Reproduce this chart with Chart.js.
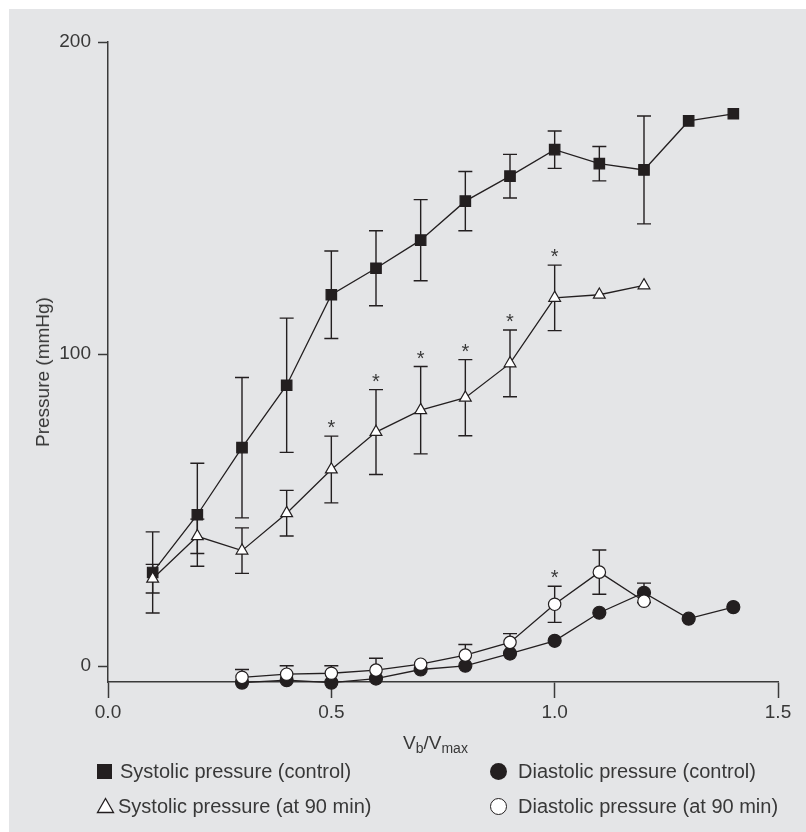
<!DOCTYPE html>
<html>
<head>
<meta charset="utf-8">
<script src="https://cdn.jsdelivr.net/npm/chart.js@4.4.1/dist/chart.umd.min.js"></script>
<style>
  html, body { margin: 0; padding: 0; background: #fff; }
  #wrap { position: relative; width: 806px; height: 832px; }
  #chart { position: absolute; left: 0; top: 0; }
  .txt { position: absolute; font-family: "Liberation Sans", Arial, sans-serif; font-size: 20px; color: #383838; white-space: nowrap; line-height: 20px; }
  .txt sub { font-size: 14px; vertical-align: -4px; line-height: 0; }
  .ytitle { left: 43px; top: 372px; font-size: 19px; transform: translate(-50%, -50%) rotate(-90deg); }
  .mk { position: absolute; }
</style>
</head>
<body>
<div id="wrap">
  <canvas id="chart" width="806" height="832"></canvas>
  <div class="txt ytitle">Pressure (mmHg)</div>
  <div class="txt" style="left:403px; top:733px; font-size:19px;">V<sub>b</sub>/V<sub>max</sub></div>

  <div class="mk" style="left:97px; top:764px; width:15px; height:15px; background:#231f20;"></div>
  <div class="txt" style="left:120px; top:761px;">Systolic pressure (control)</div>
  <svg class="mk" style="left:96px; top:797px;" width="20" height="17"><polygon points="1.5,15.5 9.5,1.5 17.5,15.5" fill="#fff" stroke="#231f20" stroke-width="1.3"/></svg>
  <div class="txt" style="left:118px; top:796px;">Systolic pressure (at 90 min)</div>

  <div class="mk" style="left:490px; top:763px; width:17px; height:17px; border-radius:50%; background:#231f20;"></div>
  <div class="txt" style="left:518px; top:761px;">Diastolic pressure (control)</div>
  <div class="mk" style="left:490px; top:798px; width:15px; height:15px; border-radius:50%; background:#fff; border:1.3px solid #231f20;"></div>
  <div class="txt" style="left:518px; top:796px;">Diastolic pressure (at 90 min)</div>
</div>
<script>
// values, one slot per x position
const xVals = [0.1, 0.2, 0.3, 0.4, 0.5, 0.6, 0.7, 0.8, 0.9, 1.0, 1.1, 1.2, 1.3, 1.4];

const sysCtrl    = [30, 48.5, 70, 90, 119, 127.5, 136.5, 149, 157, 165.5, 161, 159, 174.7, 177];
const sysCtrlErr = [13, 16.5, 22.5, 21.5, 14, 12, 13, 9.5, 7, 6, 5.5, 17.3, null, null];

const sysLate    = [28, 41.6, 37, 49, 63, 75, 82, 86, 97, 118, 119, 122, null, null];
const sysLateErr = [4.6, 5.5, 7.3, 7.3, 10.7, 13.6, 14, 12.2, 10.7, 10.5, null, null, null, null];
const sysLateStar = [0, 0, 0, 0, 1, 1, 1, 1, 1, 1, 0, 0, 0, 0];

const diaCtrl    = [null, null, -5.3, -4.5, -5.3, -4.0, -1.1, 0.1, 4.0, 8.1, 17.1, 23.5, 15.2, 18.9];
const diaCtrlErr = [null, null, null, null, null, null, null, null, null, null, null, 3.1, null, null];

const diaLate      = [null, null, -3.6, -2.6, -2.3, -1.3, 0.6, 3.5, 7.6, 19.8, 30.1, 20.8, null, null];
const diaLateErrUp = [null, null, 2.5, 2.7, 2.4, 3.8, null, 3.4, 2.8, 5.8, 7.1, null, null, null];
const diaLateErrDn = [null, null, null, null, null, null, null, null, null, 5.8, 7.1, null, null, null];
const diaLateStar  = [0, 0, 0, 0, 0, 0, 0, 0, 0, 1, 0, 0, 0, 0];

const xTicks = [0, 0.5, 1.0, 1.5];
const yTicks = [0, 100, 200];

const INK = "#231f20";
const AXIS = "#3a3a3a";
const TEXT = "#383838";

function pts(vals) {
  return xVals.map((x, i) => ({ x: x, y: vals[i] }));
}

// gray panel behind everything
const panel = {
  id: "panel",
  beforeDraw(chart) {
    const ctx = chart.ctx;
    ctx.save();
    ctx.fillStyle = "#fff";
    ctx.fillRect(0, 0, chart.width, chart.height);
    ctx.fillStyle = "#e4e5e7";
    ctx.fillRect(9, 9, chart.width - 9, chart.height - 9);
    ctx.restore();
  }
};

// error bars under the marks, asterisks on top
const errorBars = {
  id: "errorBars",
  beforeDatasetsDraw(chart) {
    const { ctx, scales: { x, y } } = chart;
    ctx.save();
    ctx.strokeStyle = INK;
    ctx.lineWidth = 1.4;
    chart.data.datasets.forEach((ds) => {
      if (!ds.errUp) return;
      xVals.forEach((xv, i) => {
        const m = ds.means[i];
        const up = ds.errUp[i];
        const dn = ds.errDn[i];
        if (m === null || (up === null && dn === null)) return;
        const px = x.getPixelForValue(xv);
        const py = y.getPixelForValue(m);
        ctx.beginPath();
        if (up !== null) {
          const t = y.getPixelForValue(m + up);
          ctx.moveTo(px, py); ctx.lineTo(px, t);
          ctx.moveTo(px - 7, t); ctx.lineTo(px + 7, t);
        }
        if (dn !== null) {
          const b = y.getPixelForValue(m - dn);
          ctx.moveTo(px, py); ctx.lineTo(px, b);
          ctx.moveTo(px - 7, b); ctx.lineTo(px + 7, b);
        }
        ctx.stroke();
      });
    });
    ctx.restore();
  },
  afterDatasetsDraw(chart) {
    const { ctx, scales: { x, y } } = chart;
    ctx.save();
    ctx.fillStyle = TEXT;
    ctx.font = "20px 'Liberation Sans', Arial, sans-serif";
    ctx.textAlign = "center";
    ctx.textBaseline = "alphabetic";
    chart.data.datasets.forEach((ds) => {
      if (!ds.stars) return;
      xVals.forEach((xv, i) => {
        if (!ds.stars[i]) return;
        const top = y.getPixelForValue(ds.means[i] + (ds.errUp[i] || 0));
        ctx.fillText("*", x.getPixelForValue(xv), top - 2);
      });
    });
    ctx.restore();
  }
};

const common = {
  showLine: true,
  borderColor: INK,
  borderWidth: 1.3,
  tension: 0,
  clip: false,
  pointBorderColor: INK,
  pointBorderWidth: 1.2
};

const ctx = document.getElementById("chart").getContext("2d");
const myChart = new Chart(ctx, {
  type: "scatter",
  data: {
    datasets: [
      Object.assign({}, common, {
        label: "Diastolic pressure (at 90 min)",
        data: pts(diaLate), means: diaLate, errUp: diaLateErrUp, errDn: diaLateErrDn, stars: diaLateStar,
        pointStyle: "circle", pointRadius: 6.2, pointBackgroundColor: "#fff", order: 1
      }),
      Object.assign({}, common, {
        label: "Diastolic pressure (control)",
        data: pts(diaCtrl), means: diaCtrl, errUp: diaCtrlErr, errDn: diaCtrlErr,
        pointStyle: "circle", pointRadius: 6.5, pointBackgroundColor: INK, order: 2
      }),
      Object.assign({}, common, {
        label: "Systolic pressure (at 90 min)",
        data: pts(sysLate), means: sysLate, errUp: sysLateErr, errDn: sysLateErr, stars: sysLateStar,
        pointStyle: "triangle", pointRadius: 6.8, pointBackgroundColor: "#fff", order: 3
      }),
      Object.assign({}, common, {
        label: "Systolic pressure (control)",
        data: pts(sysCtrl), means: sysCtrl, errUp: sysCtrlErr, errDn: sysCtrlErr,
        pointStyle: "rect", pointRadius: 7.4, pointBackgroundColor: INK, order: 4
      })
    ]
  },
  options: {
    responsive: false,
    animation: false,
    events: [],
    layout: { padding: { left: 9, top: 42, right: 28, bottom: 100 } },
    plugins: { legend: { display: false }, tooltip: { enabled: false } },
    scales: {
      x: {
        type: "linear",
        min: 0, max: 1.5,
        afterBuildTicks: (s) => { s.ticks = xTicks.map((v) => ({ value: v })); },
        afterFit: (s) => { s.height = 50; },
        grid: { drawOnChartArea: false, drawTicks: true, tickLength: 16, tickWidth: 1.5, tickColor: AXIS },
        border: { display: true, color: AXIS, width: 1.5 },
        ticks: {
          color: TEXT, padding: 3,
          font: { family: "'Liberation Sans', Arial, sans-serif", size: 19 },
          callback: (v) => Number(v).toFixed(1)
        }
      },
      y: {
        type: "linear",
        min: -5.1, max: 200,
        afterBuildTicks: (s) => { s.ticks = yTicks.map((v) => ({ value: v })); },
        afterFit: (s) => { s.width = 99; },
        grid: { drawOnChartArea: false, drawTicks: true, tickLength: 10, tickWidth: 1.5, tickColor: AXIS },
        border: { display: true, color: AXIS, width: 1.5 },
        ticks: {
          color: TEXT, padding: 7,
          font: { family: "'Liberation Sans', Arial, sans-serif", size: 19 }
        }
      }
    }
  },
  plugins: [panel, errorBars]
});
</script>
</body>
</html>
